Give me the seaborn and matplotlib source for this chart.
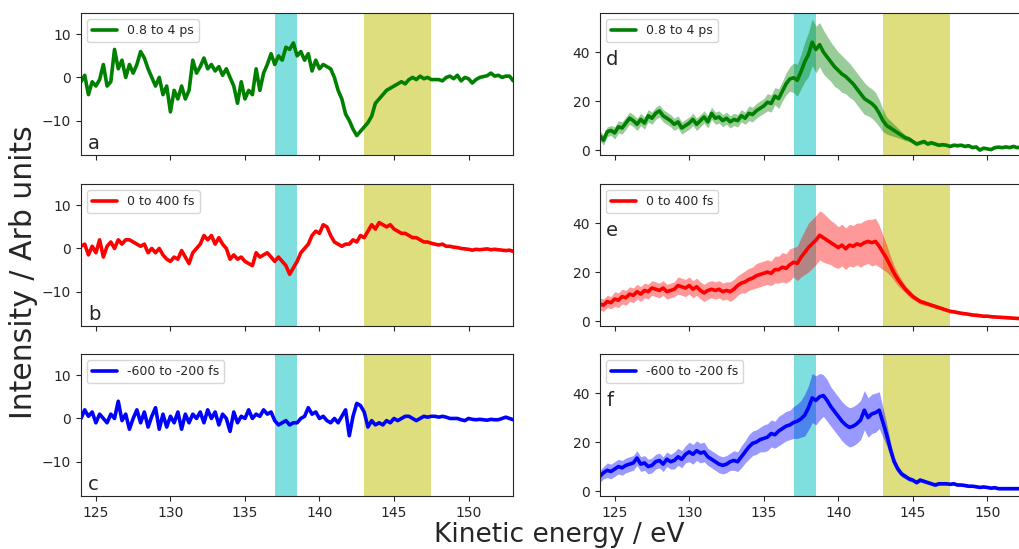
import numpy as np
import matplotlib
matplotlib.use("Agg")
import matplotlib.pyplot as plt
import seaborn as sns

sns.set_style("ticks")
plt.rcParams["font.family"] = ["DejaVu Sans"]

# kinetic energy grid (eV), 0.25 eV steps
energy = np.arange(124, 153.001, 0.25)

labels = ["0.8 to 4 ps", "0 to 400 fs", "-600 to -200 fs"]
colors = ["g", "r", "b"]
left_letters = ["a", "b", "c"]
right_letters = ["d", "e", "f"]

# difference spectra (left column), one row per eV
diff_green = [
    -1, 0.5, -4, -1,
    -2, -0.5, 3, -2,
    -1, 6.5, 2, 4,
    0, 3, 1, 3,
    6, 4.5, 2, 0,
    -2, 0, -4, -2,
    -8, -3, -5, -2,
    -5, -3, 4, 1,
    2.5, 4.5, 2, 3,
    1.5, 2.5, 0.5, 2,
    0, -2, -6, -1,
    -5, -3, -4, 2,
    -3, 1, 3, 5.5,
    3, 5, 4, 7,
    6.5, 8, 5, 6,
    4, 5.5, 1.5, 4,
    2, 3, 2.5, 2,
    0, -3, -5, -8.5,
    -10, -12, -13.5, -12.5,
    -11.5, -10.5, -9, -6,
    -5, -4, -3, -2.5,
    -2, -1.5, -1, -1.5,
    -0.5, 0, -0.5, 0.3,
    -0.3, 0, -0.5, -0.5,
    -0.5, -0.8, 0, 0.3,
    -0.3, 0.5, -0.8, 0,
    -0.3, -1.3, -0.5, 0,
    0.2, 0.4, 1, 0.3,
    0.5, 0, 0.3, 0.3,
    -0.8,
]
diff_red = [
    0.5, 1, -1.5, 0.5,
    -1, 2, -2, 0.5,
    1.5, 0, 2, 1,
    2, 2, 1.5, 1,
    0.5, 1, -1, 0,
    -1, 0, -1.5, -2.5,
    -3, -2, -2.5, -0.5,
    -2, -3.5, -1, 0,
    1, 3, 2, 3,
    1, 2.5, 1, 0,
    -2.5, -1.5, -2.5, -2,
    -3, -3.5, -4, -1,
    -2, -1.5, -1, -2,
    -3, -2, -3, -4,
    -6, -4.5, -3, -1,
    0, 1, 3, 4,
    3.5, 5.5, 5, 3,
    1.5, 1, 0.5, 1,
    1, 2, 1.5, 3,
    2.5, 4, 5.5, 4.5,
    6, 5.5, 5, 5.5,
    4.5, 4, 3.5, 3.5,
    3, 2.5, 2.5, 2,
    1.5, 1.5, 1.2, 1,
    0.8, 1, 0.5, 0.5,
    0.3, 0.2, 0, -0.1,
    -0.2, -0.4, -0.2, -0.3,
    -0.2, -0.1, -0.3, -0.2,
    -0.3, -0.4, -0.5, -0.4,
    -0.7,
]
diff_blue = [
    0, 2, 0.5, 1.5,
    -1, 1, 0, -1,
    1, 0, 4, -0.5,
    1, -2.5, 0, 2,
    -1, 1.5, -2, 0.5,
    2.5, -2.5, 1, -2,
    0.5, -1, 1.5, -2.5,
    1, -1, 1, 0,
    1.5, -1, 2, 0,
    1.5, -1.5, 1, 0,
    -3, 1.5, -1, 0.5,
    0, 2, 0, 1,
    0.5, 2, 1, 1.5,
    -0.5, -1.5, -1, -0.5,
    -1.5, -1, -1, 0,
    0.5, 2.5, 1, 1.5,
    0, 0.5, -0.5, -1,
    0, -1, 0.5, 2,
    -4, 0.5, 3.5, 3,
    1.5, -2, -0.5, -1.5,
    -1, -1.5, -0.5, -1,
    0, -0.5, 0, 0.5,
    0.5, 0, -0.5, 0,
    0.5, 0.3, 0.5, 0.5,
    0.3, 0.5, 0.3, 0,
    0, 0, -0.3, -0.5,
    0, -0.2, -0.3, -0.2,
    -0.3, -0.4, -0.2, -0.3,
    -0.3, 0, 0.3, 0,
    -0.3,
]

# spectra (right column) and their uncertainties
spec_green = [
    6, 4, 7.5, 8,
    7, 9.5, 9, 11,
    13, 12, 10.5, 12.5,
    11, 14, 13, 15,
    16, 14, 13, 12,
    10.5, 11.5, 9, 10,
    11, 12.5, 10.5, 12,
    13.5, 11.5, 15, 13,
    13.5, 12, 13, 11.5,
    12.5, 12, 14, 13,
    15, 14.5, 16, 17,
    18, 19.5, 19, 22,
    21, 24, 27, 29,
    29.5, 28.5, 32, 36,
    39, 44, 41, 43,
    40, 38, 36, 34,
    32.5, 31, 30, 28.5,
    27, 25, 23, 21,
    20, 19, 17.5, 15,
    12, 10, 9, 8,
    7, 6, 5, 4.5,
    3.5, 2.5, 3, 3.5,
    2.5, 3, 2.5, 2,
    2.2, 2, 1.5, 2,
    1.8, 2, 1.5, 1.8,
    1, 1.3, 0, 0.8,
    0.5, 0.2, 1, 1.2,
    1, 1.3, 1, 1.5,
    1, 1.2, 0.8, 1,
    1,
]
err_green = [
    2, 2, 2, 2,
    2.5, 2.5, 2.5, 2.5,
    2.5, 2.5, 2.5, 2.5,
    2.5, 2.5, 2.5, 2.5,
    2.5, 2.5, 2.5, 2.5,
    2.5, 2.5, 2.5, 2.5,
    2.5, 2.5, 2.5, 2.5,
    2.5, 2.5, 2.5, 2.5,
    2.5, 2.5, 2.5, 2.5,
    2.5, 2.5, 2.5, 2.5,
    3, 3, 3, 3,
    3, 3.5, 3.5, 3.5,
    4, 4, 4.5, 5,
    6, 6.5, 7, 8,
    9, 9.5, 9.5, 9,
    9, 8.5, 8, 8,
    7.5, 7.5, 7, 7,
    6.5, 6.5, 6.5, 6.5,
    6, 6, 6, 5.5,
    4.5, 3.5, 3, 2.5,
    2, 1.5, 1.2, 1,
    0.8, 0.8, 0.8, 0.8,
    0.7, 0.7, 0.7, 0.7,
    0.6, 0.6, 0.6, 0.6,
    0.6, 0.6, 0.6, 0.6,
    0.5, 0.5, 0.5, 0.5,
    0.5, 0.5, 0.5, 0.5,
    0.5, 0.5, 0.5, 0.5,
    0.5, 0.5, 0.5, 0.5,
    0.5,
]
spec_red = [
    7, 6.5, 8, 7.5,
    9, 8.5, 10, 9.5,
    11, 10.5, 12, 11,
    12.5, 12, 13.5, 13,
    12.5, 13.5, 12, 12.5,
    13, 14.5, 14, 13.5,
    14.5, 13, 14, 12.5,
    11.5, 12.5, 13, 12.5,
    13, 12, 12.5, 12,
    13, 14.5, 15.5, 16,
    17, 17.5, 18.5, 19,
    19.5, 20, 19.5, 21,
    21, 22, 21.5, 23,
    24, 23.5, 26, 28,
    30, 31.5, 33, 35,
    34, 33, 32, 31,
    30, 31, 29.5, 31,
    30.5, 31.5, 31, 32,
    32.5, 32, 32.5, 30.5,
    28, 25.5, 22.5, 19.5,
    17, 15, 13, 11.5,
    10, 9, 8, 7.5,
    7, 6.5, 6, 5.5,
    5, 4.5, 4, 3.8,
    3.5, 3.2, 3, 2.8,
    2.5, 2.4, 2.2, 2,
    2, 1.8, 1.7, 1.6,
    1.5, 1.4, 1.3, 1.2,
    1.1, 1, 1, 0.9,
    0.9,
]
err_red = [
    2.5, 2.5, 2.5, 2.5,
    3, 3, 3, 3,
    3, 3, 3, 3,
    3, 3, 3, 3,
    3, 3, 3, 3,
    3, 3.5, 3.5, 3.5,
    3.5, 3.5, 3.5, 3.5,
    3.5, 3.5, 3.5, 3.5,
    3.5, 3.5, 3.5, 4,
    4, 4, 4, 4.5,
    4.5, 4.5, 5, 5,
    5, 5, 5, 5.5,
    5.5, 6, 6, 6.5,
    6, 7, 8, 9,
    10, 10, 10, 10,
    10, 9.5, 9, 9,
    8.5, 8.5, 8.5, 8.5,
    8.5, 8.5, 9, 9,
    9, 9.5, 9.5, 8.5,
    7, 5.5, 4, 3,
    2.5, 2, 1.5, 1.5,
    1.2, 1, 1, 1,
    0.8, 0.8, 0.8, 0.8,
    0.7, 0.7, 0.7, 0.7,
    0.6, 0.6, 0.6, 0.6,
    0.6, 0.6, 0.6, 0.6,
    0.5, 0.5, 0.5, 0.5,
    0.5, 0.5, 0.5, 0.5,
    0.5, 0.5, 0.5, 0.5,
    0.5,
]
spec_blue = [
    6, 7.5, 8.5, 8,
    9, 10, 9.5, 10.5,
    11, 11.5, 13.5, 11,
    11.5, 10, 10.5, 12,
    12.5, 11, 13, 12,
    12.5, 14, 13, 15,
    16, 15, 16.5, 15.5,
    16, 14, 13, 12,
    11, 10.5, 11, 12,
    12.5, 12, 14, 16,
    18, 19.5, 20, 21,
    21.5, 22, 23.5, 23,
    24.5, 25.5, 26.5, 27,
    28, 28.5, 29.5, 31,
    34, 38, 37, 38.5,
    39, 37, 34.5, 32.5,
    30.5, 28.5, 27, 26,
    26.5, 27.5, 29, 33,
    30, 31.5, 32, 33,
    28, 23, 17, 12,
    9, 7, 6, 5,
    4.5, 3.5, 4.5, 4,
    3.5, 3, 2.5, 3,
    3, 3, 2.8, 3,
    2.5, 2.5, 2.3, 2,
    2, 1.8, 1.5, 1.7,
    1.5, 1.2, 1.4, 1,
    1, 1, 1, 1,
    1, 1, 1, 1,
    1,
]
err_blue = [
    2.5, 2.5, 3, 3,
    3, 3, 3, 3,
    3, 3, 3, 3,
    3, 3, 3, 3,
    3, 3, 3, 3,
    3.5, 3.5, 3.5, 3.5,
    4, 4, 4, 4,
    4, 3.5, 3.5, 3.5,
    3.5, 3.5, 3.5, 3.5,
    4, 4, 4.5, 4.5,
    5, 5, 5, 5,
    5.5, 5.5, 5.5, 5.5,
    6, 6, 6, 6,
    6.5, 7, 7.5, 8.5,
    9, 10, 10, 9.5,
    8.5, 8.5, 8, 8,
    8, 8, 8, 8,
    8, 8, 8, 8,
    8, 8, 8, 7.5,
    6, 4.5, 3, 2,
    1.5, 1.2, 1, 1,
    0.8, 0.8, 0.8, 0.8,
    0.7, 0.7, 0.7, 0.7,
    0.6, 0.6, 0.6, 0.6,
    0.6, 0.6, 0.6, 0.6,
    0.5, 0.5, 0.5, 0.5,
    0.5, 0.5, 0.5, 0.5,
    0.5, 0.5, 0.5, 0.5,
    0.5, 0.5, 0.5, 0.5,
    0.5,
]

diffs = [diff_green, diff_red, diff_blue]
specs = [spec_green, spec_red, spec_blue]
errs = [err_green, err_red, err_blue]

cyan_band = (137.0, 138.5)
olive_band = (143.0, 147.5)

fig = plt.figure(figsize=(10.2, 5.49), dpi=100)

row_bottoms = [0.7177, 0.4062, 0.0965]
row_h = 0.259
col_lefts = [0.0794, 0.588]
col_w = 0.4238

for i in range(3):
    # left: difference spectra
    ax = fig.add_axes([col_lefts[0], row_bottoms[i], col_w, row_h])
    ax.axvspan(*cyan_band, color="c", alpha=0.5, lw=0)
    ax.axvspan(*olive_band, color="y", alpha=0.5, lw=0)
    sns.lineplot(x=energy, y=np.array(diffs[i]), ax=ax, color=colors[i],
                 lw=2.6, label=labels[i])
    ax.set_xlim(124, 153)
    ax.set_ylim(-18, 15)
    ax.set_yticks([-10, 0, 10])
    ax.set_xticks([125, 130, 135, 140, 145, 150])
    ax.legend(loc="upper left", fontsize=9)
    ax.text(0.016, 0.04, left_letters[i], transform=ax.transAxes, fontsize=14)
    ax.tick_params(labelsize=10)
    if i < 2:
        ax.set_xticklabels([])

    # right: spectra with uncertainty bands
    ax2 = fig.add_axes([col_lefts[1], row_bottoms[i], col_w, row_h])
    ax2.axvspan(*cyan_band, color="c", alpha=0.5, lw=0)
    ax2.axvspan(*olive_band, color="y", alpha=0.5, lw=0)
    s = np.array(specs[i])
    e = np.array(errs[i])
    ax2.fill_between(energy, s - e, s + e, color=colors[i], alpha=0.4, lw=0)
    sns.lineplot(x=energy, y=s, ax=ax2, color=colors[i], lw=2.6,
                 label=labels[i])
    ax2.set_xlim(124, 153)
    ax2.set_ylim(-2, 56)
    ax2.set_yticks([0, 20, 40])
    ax2.set_xticks([125, 130, 135, 140, 145, 150])
    ax2.legend(loc="upper left", fontsize=9)
    ax2.text(0.015, 0.74, right_letters[i], transform=ax2.transAxes,
             fontsize=14, va="top")
    ax2.tick_params(labelsize=10)
    if i < 2:
        ax2.set_xticklabels([])

fig.text(0.023, 0.504, "Intensity / Arb units", rotation=90, fontsize=21.5,
         ha="center", va="center")
fig.text(0.548, 0.013, "Kinetic energy / eV", fontsize=19, ha="center",
         va="baseline")

fig.savefig("out.png", dpi=100)
